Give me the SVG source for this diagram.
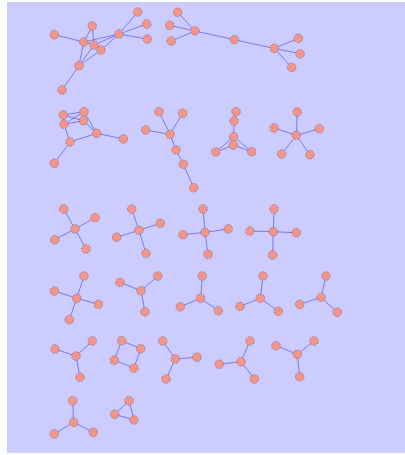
<svg xmlns="http://www.w3.org/2000/svg" width="405" height="455" viewBox="0 0 405 455">
<style>
.e{stroke:#7a7aee;stroke-width:1;fill:none}
.n circle{fill:#f59488;stroke:#7a6a70;stroke-width:0.8;stroke-dasharray:1.2,1}
</style>
<rect x="7" y="2" width="398" height="451" fill="#ccccff"/>
<g id="connectors" class="e">
<!-- cluster A -->
<path d="M92.3,26L83.7,42M92.3,26L94,45M54.3,34.7L83.7,42M83.7,42L119,34M94,45L119,34M101,50L119,34M83.7,42L94,45M94,45L101,50M79,65.7L83.7,42M79,65.7L94,45M79,65.7L101,50M79,65.7L62,90M119,34L137.7,12M119,34L146.7,24M119,34L147.3,39"/>
<!-- cluster A2 -->
<path d="M195,31L177.7,12.3M195,31L169.7,25.3M195,31L171.3,41M195,31L234.3,39.7M234.3,39.7L274.3,48.3M274.3,48.3L298.3,38.3M274.3,48.3L300,53.7M274.3,48.3L291.7,67.3"/>
<!-- cluster B -->
<path d="M63.3,115L84,111.7M63.3,115L83.3,120.7M64,124.3L84,111.7M64,124.3L83.3,120.7M63.3,115L64,124.3M84,111.7L96.7,133.3M83.3,120.7L96.7,133.3M64,124.3L70,142M70,142L96.7,133.3M96.7,133.3L123.3,139M70,142L54.3,163.3"/>
<!-- cluster C -->
<path d="M170,134.3L159,111.7M170,134.3L182.7,113.3M170,134.3L145.7,130M170,134.3L176,150M176,150L183.3,164.3M183.3,164.3L193.7,187.7"/>
<!-- cluster D -->
<path d="M236,111.7L234,121M234,121L233.7,136.7M233.7,136.7L233.3,145M233.7,136.7L215.7,152M233.7,136.7L251.7,151.7M233.3,145L215.7,152M233.3,145L251.7,151.7"/>
<!-- cluster E -->
<path d="M296.3,135.3L297.3,112M296.3,135.3L274,128M296.3,135.3L319.3,128.7M296.3,135.3L281.7,154M296.3,135.3L310,154.7"/>
<!-- row 3 -->
<path d="M75,229L63.7,209M75,229L95,217.7M75,229L54.7,239.7M75,229L86,249"/>
<path d="M139,230.3L131.7,209M139,230.3L160.3,223.3M139,230.3L146,253.3M139,230.3L116.7,237.3"/>
<path d="M205,232.3L203,209M205,232.3L228.3,229M205,232.3L183,234.7M205,232.3L208,254.3"/>
<path d="M273.3,231.7L274,209M273.3,231.7L296.3,232.7M273.3,231.7L272.7,255M273.3,231.7L250,231"/>
<!-- row 4 -->
<path d="M76.7,298.3L84,276M76.7,298.3L54.3,291M76.7,298.3L98.3,304.3M76.7,298.3L69.3,319.7"/>
<path d="M141,290.7L157.7,276M141,290.7L145,311.7M141,290.7L120,282.3"/>
<path d="M200.7,298.3L202.3,276M200.7,298.3L180.3,306.7M200.7,298.3L218.3,310.7"/>
<path d="M260.3,298.3L263,276M260.3,298.3L240,306.3M260.3,298.3L278.3,311.3"/>
<path d="M321,297.3L326,276M321,297.3L299.7,304.3M321,297.3L337.3,312.3"/>
<!-- row 5 -->
<path d="M76,356L55,349M76,356L92.3,341M76,356L80,377.3"/>
<path d="M121.7,340.7L140.7,348.7L134,368L114.3,360.3Z"/>
<path d="M175.3,359L162.7,341M175.3,359L197,357.3M175.3,359L166,379"/>
<path d="M241,361.7L250,341M241,361.7L219.3,364.3M241,361.7L254.3,379"/>
<path d="M297.3,354.3L276,345.7M297.3,354.3L314,341M297.3,354.3L299.7,376.7"/>
<!-- row 6 -->
<path d="M73.7,422.3L72.7,400.7M73.7,422.3L54.3,434M73.7,422.3L93.3,432.3"/>
<path d="M129,400.7L114.7,414.3L134,420Z"/>
</g>
<g id="clusterA" class="n">
<circle cx="92.3" cy="26" r="4.3"/><circle cx="54.3" cy="34.7" r="4.3"/><circle cx="83.7" cy="42" r="4.3"/><circle cx="94" cy="45" r="4.3"/><circle cx="101" cy="50" r="4.3"/><circle cx="119" cy="34" r="4.3"/><circle cx="79" cy="65.7" r="4.3"/><circle cx="62" cy="90" r="4.3"/><circle cx="137.7" cy="12" r="4.3"/><circle cx="146.7" cy="24" r="4.3"/><circle cx="147.3" cy="39" r="4.3"/>
</g>
<g id="clusterA2" class="n">
<circle cx="177.7" cy="12.3" r="4.3"/><circle cx="169.7" cy="25.3" r="4.3"/><circle cx="171.3" cy="41" r="4.3"/><circle cx="195" cy="31" r="4.3"/><circle cx="234.3" cy="39.7" r="4.3"/><circle cx="274.3" cy="48.3" r="4.3"/><circle cx="298.3" cy="38.3" r="4.3"/><circle cx="300" cy="53.7" r="4.3"/><circle cx="291.7" cy="67.3" r="4.3"/>
</g>
<g id="clusterB" class="n">
<circle cx="63.3" cy="115" r="4.3"/><circle cx="84" cy="111.7" r="4.3"/><circle cx="64" cy="124.3" r="4.3"/><circle cx="83.3" cy="120.7" r="4.3"/><circle cx="96.7" cy="133.3" r="4.3"/><circle cx="123.3" cy="139" r="4.3"/><circle cx="70" cy="142" r="4.3"/><circle cx="54.3" cy="163.3" r="4.3"/>
</g>
<g id="clusterC" class="n">
<circle cx="159" cy="111.7" r="4.3"/><circle cx="182.7" cy="113.3" r="4.3"/><circle cx="145.7" cy="130" r="4.3"/><circle cx="170" cy="134.3" r="4.3"/><circle cx="176" cy="150" r="4.3"/><circle cx="183.3" cy="164.3" r="4.3"/><circle cx="193.7" cy="187.7" r="4.3"/>
</g>
<g id="clusterD" class="n">
<circle cx="236" cy="111.7" r="4.3"/><circle cx="234" cy="121" r="4.3"/><circle cx="233.7" cy="136.7" r="4.3"/><circle cx="233.3" cy="145" r="4.3"/><circle cx="215.7" cy="152" r="4.3"/><circle cx="251.7" cy="151.7" r="4.3"/>
</g>
<g id="clusterE" class="n">
<circle cx="296.3" cy="135.3" r="4.3"/><circle cx="297.3" cy="112" r="4.3"/><circle cx="274" cy="128" r="4.3"/><circle cx="319.3" cy="128.7" r="4.3"/><circle cx="281.7" cy="154" r="4.3"/><circle cx="310" cy="154.7" r="4.3"/>
</g>
<g id="clusterF" class="n">
<circle cx="75" cy="229" r="4.3"/><circle cx="63.7" cy="209" r="4.3"/><circle cx="95" cy="217.7" r="4.3"/><circle cx="54.7" cy="239.7" r="4.3"/><circle cx="86" cy="249" r="4.3"/>
</g>
<g id="clusterH" class="n">
<circle cx="139" cy="230.3" r="4.3"/><circle cx="131.7" cy="209" r="4.3"/><circle cx="160.3" cy="223.3" r="4.3"/><circle cx="146" cy="253.3" r="4.3"/><circle cx="116.7" cy="237.3" r="4.3"/>
</g>
<g id="clusterI" class="n">
<circle cx="205" cy="232.3" r="4.3"/><circle cx="203" cy="209" r="4.3"/><circle cx="228.3" cy="229" r="4.3"/><circle cx="183" cy="234.7" r="4.3"/><circle cx="208" cy="254.3" r="4.3"/>
</g>
<g id="clusterJ" class="n">
<circle cx="273.3" cy="231.7" r="4.3"/><circle cx="274" cy="209" r="4.3"/><circle cx="296.3" cy="232.7" r="4.3"/><circle cx="272.7" cy="255" r="4.3"/><circle cx="250" cy="231" r="4.3"/>
</g>
<g id="clusterG" class="n">
<circle cx="76.7" cy="298.3" r="4.3"/><circle cx="84" cy="276" r="4.3"/><circle cx="54.3" cy="291" r="4.3"/><circle cx="98.3" cy="304.3" r="4.3"/><circle cx="69.3" cy="319.7" r="4.3"/>
</g>
<g id="clusterK" class="n">
<circle cx="141" cy="290.7" r="4.3"/><circle cx="157.7" cy="276" r="4.3"/><circle cx="145" cy="311.7" r="4.3"/><circle cx="120" cy="282.3" r="4.3"/>
</g>
<g id="clusterL" class="n">
<circle cx="200.7" cy="298.3" r="4.3"/><circle cx="202.3" cy="276" r="4.3"/><circle cx="180.3" cy="306.7" r="4.3"/><circle cx="218.3" cy="310.7" r="4.3"/>
</g>
<g id="clusterM" class="n">
<circle cx="260.3" cy="298.3" r="4.3"/><circle cx="263" cy="276" r="4.3"/><circle cx="240" cy="306.3" r="4.3"/><circle cx="278.3" cy="311.3" r="4.3"/>
</g>
<g id="clusterN" class="n">
<circle cx="321" cy="297.3" r="4.3"/><circle cx="326" cy="276" r="4.3"/><circle cx="299.7" cy="304.3" r="4.3"/><circle cx="337.3" cy="312.3" r="4.3"/>
</g>
<g id="clusterO" class="n">
<circle cx="76" cy="356" r="4.3"/><circle cx="55" cy="349" r="4.3"/><circle cx="92.3" cy="341" r="4.3"/><circle cx="80" cy="377.3" r="4.3"/>
</g>
<g id="clusterP" class="n">
<circle cx="121.7" cy="340.7" r="4.3"/><circle cx="140.7" cy="348.7" r="4.3"/><circle cx="134" cy="368" r="4.3"/><circle cx="114.3" cy="360.3" r="4.3"/>
</g>
<g id="clusterS" class="n">
<circle cx="175.3" cy="359" r="4.3"/><circle cx="162.7" cy="341" r="4.3"/><circle cx="197" cy="357.3" r="4.3"/><circle cx="166" cy="379" r="4.3"/>
</g>
<g id="clusterT" class="n">
<circle cx="241" cy="361.7" r="4.3"/><circle cx="250" cy="341" r="4.3"/><circle cx="219.3" cy="364.3" r="4.3"/><circle cx="254.3" cy="379" r="4.3"/>
</g>
<g id="clusterU" class="n">
<circle cx="297.3" cy="354.3" r="4.3"/><circle cx="276" cy="345.7" r="4.3"/><circle cx="314" cy="341" r="4.3"/><circle cx="299.7" cy="376.7" r="4.3"/>
</g>
<g id="clusterQ" class="n">
<circle cx="73.7" cy="422.3" r="4.3"/><circle cx="72.7" cy="400.7" r="4.3"/><circle cx="54.3" cy="434" r="4.3"/><circle cx="93.3" cy="432.3" r="4.3"/>
</g>
<g id="clusterR" class="n">
<circle cx="129" cy="400.7" r="4.3"/><circle cx="114.7" cy="414.3" r="4.3"/><circle cx="134" cy="420" r="4.3"/>
</g>
</svg>
